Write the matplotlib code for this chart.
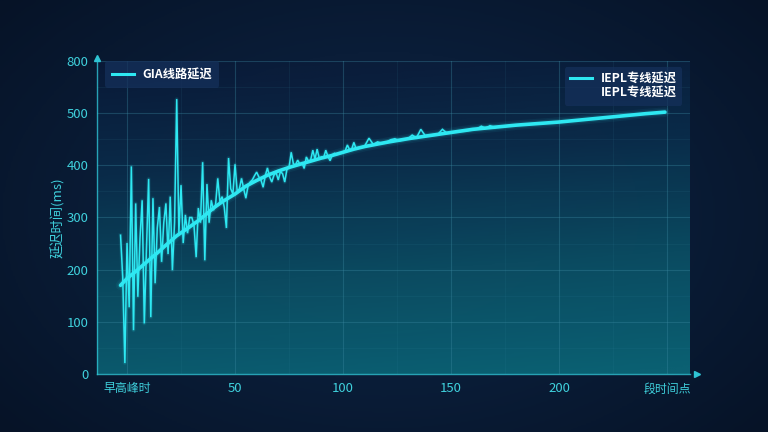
import numpy as np
import matplotlib
matplotlib.use('Agg')
import matplotlib.pyplot as plt
from matplotlib.lines import Line2D
from matplotlib.colors import LinearSegmentedColormap

plt.rcParams['font.family'] = ['Noto Sans CJK SC', 'DejaVu Sans']

# ---------------- data ----------------
x_ticks = [0, 50, 100, 150, 200, 250]
x_tick_labels = ['早高峰时', '50', '100', '150', '200', '段时间点']
y_ticks = [0, 100, 200, 300, 400, 500, 600]
y_tick_labels = ['0', '100', '200', '300', '400', '500', '800']

iepl_x = [-3, 0, 5, 10, 14, 18, 23, 29, 33, 36,
          40, 44, 50, 55, 60, 65, 70, 75, 80, 85,
          90, 95, 100, 105, 110, 120, 130, 140, 150, 160,
          170, 180, 190, 200, 210, 220, 230, 240, 249]
iepl_y = [170, 183, 200, 218, 232, 247, 265, 282, 294, 304,
          318, 330, 345, 360, 371, 381, 389, 396, 402, 408,
          414, 419, 425, 431, 436, 444, 451, 457, 463, 469,
          473, 477, 480, 483, 487, 491, 495, 499, 502]

gia_x = list(range(-3, 111)) + list(range(112, 171, 2))
gia_y = [266, 186, 21, 251, 128, 398, 84, 327, 148, 260,
         333, 97, 240, 374, 109, 337, 174, 280, 320, 215,
         290, 327, 230, 340, 199, 290, 527, 270, 362, 251,
         305, 270, 300, 300, 285, 224, 318, 290, 406, 218,
         364, 290, 333, 314, 325, 375, 330, 340, 320, 280,
         414, 355, 345, 402, 350, 355, 375, 355, 337, 360,
         368, 372, 380, 387, 378, 372, 358, 380, 395, 378,
         368, 381, 386, 372, 388, 384, 368, 392, 396, 425,
         403, 401, 410, 402, 405, 394, 416, 408, 410, 429,
         412, 431, 413, 416, 414, 429, 417, 409, 420, 423,
         421, 423, 424, 426, 428, 439, 430, 431, 444, 432,
         434, 435, 436, 437,
         452, 440, 445, 442, 444, 449, 451, 447, 449, 451,
         458, 453, 469, 457, 458, 459, 460, 469, 462, 463,
         464, 465, 466, 467, 469, 470, 475, 471, 476, 473]

gia_label = 'GIA线路延迟'
iepl_label = 'IEPL专线延迟'
y_label = '延迟时间(ms)'

# ---------------- style ----------------
CYAN = '#2ee8f2'
TICK_C = '#3fd0dc'
XMIN, XMAX = -13.9, 260.6

fig = plt.figure(figsize=(7.68, 4.32), dpi=100)

# figure background gradient
bg = fig.add_axes([0, 0, 1, 1], zorder=-10)
bg.set_axis_off()
yy, xx = np.mgrid[0:1:200j, 0:1:300j]
r = np.sqrt(((xx - 0.5) / 0.7) ** 2 + ((yy - 0.5) / 0.8) ** 2)
cmap_bg = LinearSegmentedColormap.from_list('bg', ['#0d2444', '#0a1d38', '#061327'])
bg.imshow(np.clip(r, 0, 1), cmap=cmap_bg, aspect='auto', extent=[0, 1, 0, 1], origin='lower')
bg.set_xlim(0, 1)
bg.set_ylim(0, 1)

ax = fig.add_axes([97 / 768, 1 - 374 / 432, 593 / 768, 313 / 432])
ax.patch.set_alpha(0)

# plot area gradient (teal at bottom, darker at top)
gy, gx = np.mgrid[0:1:200j, 0:1:300j]
val = np.clip((1 - gy) * 0.9 + gx * 0.12, 0, 1)
cmap_pa = LinearSegmentedColormap.from_list('pa', ['#0a1a38', '#0a2c4a', '#0b4c62', '#0c6375'])
ax.imshow(val, cmap=cmap_pa, aspect='auto', extent=[XMIN, XMAX, 600, 0],
          zorder=0, alpha=0.97)
ax.set_xlim(XMIN, XMAX)
ax.set_ylim(0, 600)

# grid
ax.set_xticks(x_ticks)
ax.set_yticks(y_ticks)
ax.set_xticks([25, 75, 125, 175, 225], minor=True)
ax.set_yticks([50, 150, 250, 350, 450, 550], minor=True)
ax.grid(True, which='major', color='#3b8aa2', alpha=0.35, linestyle='-', linewidth=0.8, zorder=1)
ax.grid(True, which='minor', color='#3b8aa2', alpha=0.12, linestyle='-', linewidth=0.6, zorder=1)

# lines with glow
for lw, a in [(7, 0.06), (4.5, 0.12)]:
    ax.plot(gia_x, gia_y, color=CYAN, lw=lw * 0.45, alpha=a, zorder=3)
    ax.plot(iepl_x, iepl_y, color=CYAN, lw=lw, alpha=a, zorder=3, solid_capstyle='round')
ax.plot(gia_x, gia_y, color=CYAN, lw=1.1, zorder=4, solid_joinstyle='miter')
ax.plot(iepl_x, iepl_y, color=CYAN, lw=2.6, zorder=5, solid_capstyle='round')

# axes styling
for s in ['top', 'right']:
    ax.spines[s].set_visible(False)
for s in ['left', 'bottom']:
    ax.spines[s].set_color('#2fc4d4')
    ax.spines[s].set_alpha(0.8)
    ax.spines[s].set_linewidth(1.0)
ax.tick_params(which='both', length=0)
ax.set_xticklabels(x_tick_labels, color=TICK_C, fontsize=9.5)
ax.set_yticklabels(y_tick_labels, color=TICK_C, fontsize=9.5)
xl = ax.get_xticklabels()
xl[0].set_fontsize(8.6)
xl[-1].set_fontsize(8.6)
ax.tick_params(axis='x', pad=6)
ax.tick_params(axis='y', pad=6)
ax.set_ylabel(y_label, color=TICK_C, fontsize=9.5, labelpad=1)

# arrows at axis ends
ax.plot([0], [1.01], marker='^', color='#2fc4d4', markersize=5, transform=ax.transAxes, clip_on=False)
ax.plot([1.012], [0], marker='>', color='#2fc4d4', markersize=5, transform=ax.transAxes, clip_on=False)

# legends
h1 = Line2D([], [], color=CYAN, lw=2.2)
leg1 = ax.legend([h1], [gia_label], loc='upper left', bbox_to_anchor=(0.004, 1.018),
                 frameon=True, fontsize=8.8, handlelength=1.8, handletextpad=0.7,
                 borderpad=0.55, fancybox=True)
leg1.get_frame().set_facecolor('#15305a')
leg1.get_frame().set_edgecolor('none')
leg1.get_frame().set_alpha(0.75)
for t in leg1.get_texts():
    t.set_color('white')
    t.set_fontweight('bold')
ax.add_artist(leg1)

h2 = Line2D([], [], color=CYAN, lw=2.2)
h3 = Line2D([], [], color='none', lw=0)
leg2 = ax.legend([h2, h3], [iepl_label, iepl_label], loc='upper right', bbox_to_anchor=(0.997, 1.0),
                 frameon=True, fontsize=8.8, handlelength=1.8, handletextpad=0.7,
                 borderpad=0.45, labelspacing=0.12, fancybox=True)
leg2.get_frame().set_facecolor('#15305a')
leg2.get_frame().set_edgecolor('none')
leg2.get_frame().set_alpha(0.75)
for t in leg2.get_texts():
    t.set_color('white')
    t.set_fontweight('bold')

fig.savefig('out.png', dpi=100)
